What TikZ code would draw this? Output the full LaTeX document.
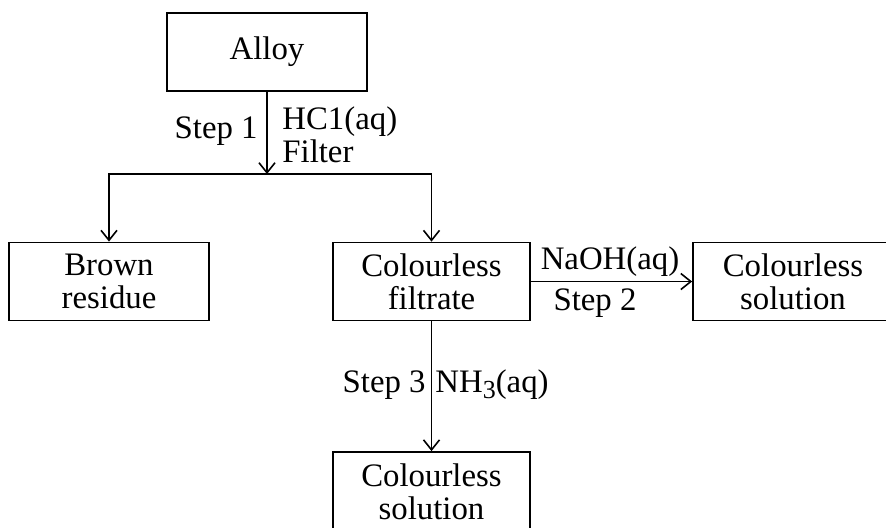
\documentclass[tikz,border=0pt]{standalone}
\usepackage{fontspec}
\setmainfont{Liberation Serif}
\usetikzlibrary{arrows.meta}
\begin{document}
\begin{tikzpicture}[x=0.5pt,y=-0.5pt,
  every node/.style={font=\fontsize{16.4}{16.5}\selectfont},
  box/.style={draw,line width=0.9pt,minimum width=100pt,minimum height=39pt,align=center,inner sep=0pt},
  conn/.style={line width=0.8pt},
  arr/.style={conn,-{Straight Barb[length=5pt,width=8pt,line width=0.8pt]}},
  lbl/.style={inner sep=0pt,align=left}]
\useasboundingbox (0,0) rectangle (886,527);
\clip (0,0) rectangle (886,527);
\node[box] (alloy) at (267,52) {Alloy};
\node[box] (brown) at (109,281.5) {Brown\\residue};
\node[box,minimum width=98.5pt] (filtrate) at (431.5,281.5) {Colourless\\filtrate};
\node[box,minimum width=100pt] (sol1) at (793,281.5) {Colourless\\solution};
\node[box,minimum width=98.5pt,minimum height=40pt] (sol2) at (431.5,492) {Colourless\\solution};
\coordinate (j) at (267,174);
\draw[arr] (alloy.south) -- (j);
\draw[arr] (j) -| (brown.north);
\draw[arr] (j) -| (filtrate.north);
\draw[arr] (filtrate.east) -- (sol1.west);
\draw[arr] (filtrate.south) -- (sol2.north);
\node[lbl,anchor=east] (s1) at (258,131) {Step 1};
\node[lbl,anchor=west] (hcl) at (282,135) {HC1(aq)\\Filter};
\node[lbl] (naoh) at (610,262) {NaOH(aq)};
\node[lbl] (s2) at (595,303) {Step 2};
\node[lbl,anchor=east] (s3) at (426,385) {Step 3};
\node[lbl,anchor=west] (nh3) at (435,385) {NH\raisebox{-0.4ex}{\fontsize{13}{13}\selectfont 3}(aq)};
\end{tikzpicture}
\end{document}
